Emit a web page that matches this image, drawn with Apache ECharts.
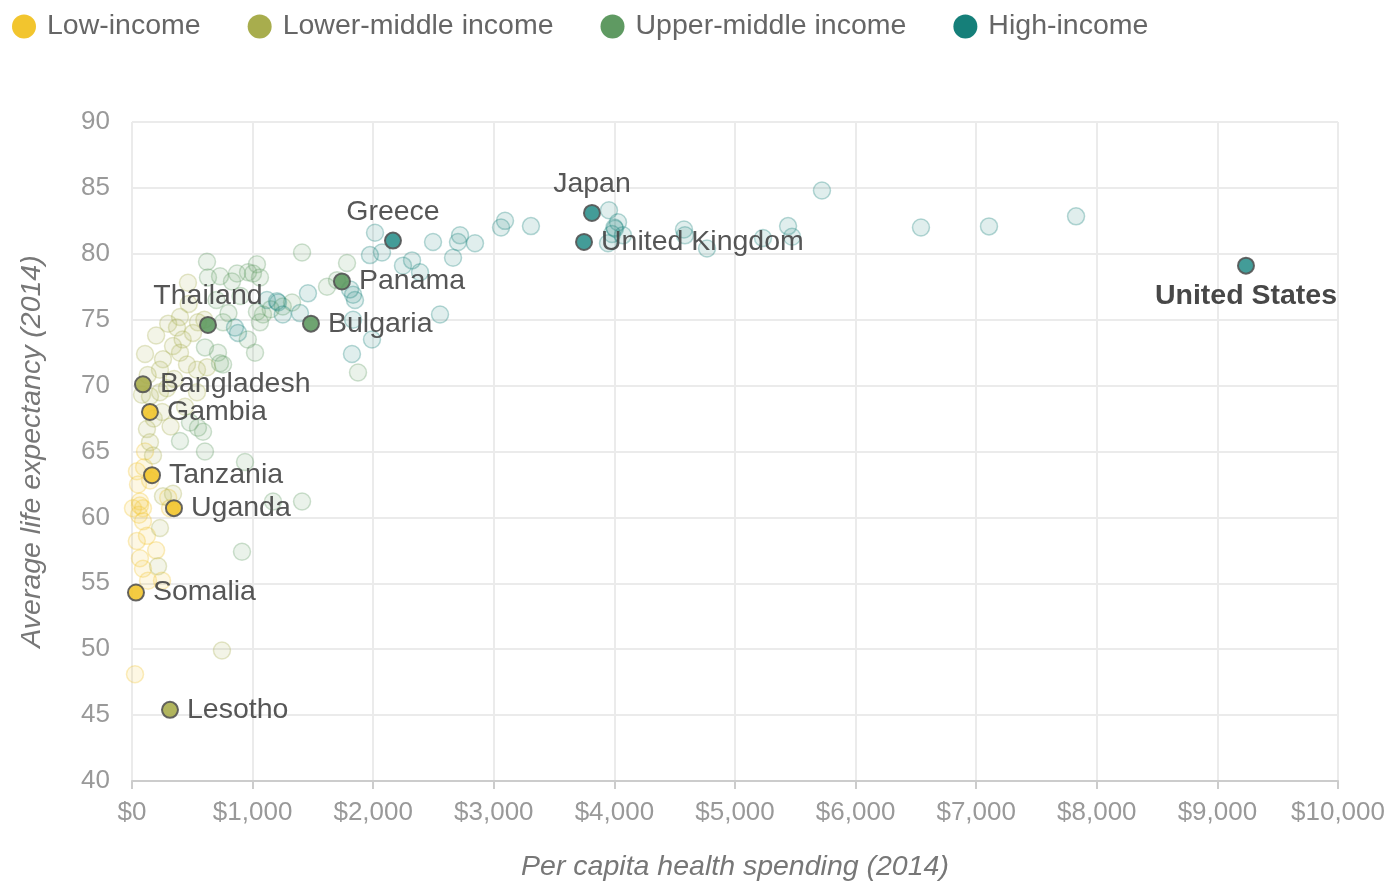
<!DOCTYPE html>
<html><head><meta charset="utf-8">
<script src="https://cdn.jsdelivr.net/npm/echarts@6/dist/echarts.min.js"></script>
<style>html,body{margin:0;padding:0;background:#fff}#c{width:1392px;height:887px}</style>
</head><body><div id="c"></div>
<script>
const groups = ['Low-income','Lower-middle income','Upper-middle income','High-income'];
const groupColors = ['#f2c52e','#a8ad4d','#5f9a62','#157f79'];
const xTicks = [0,1000,2000,3000,4000,5000,6000,7000,8000,9000,10000];
const yTicks = [40,45,50,55,60,65,70,75,80,85,90];

// faded points: [spending, life expectancy]
const lowIncome = [[41,63.5],[66,61.2],[91,60.7],[315,60.7],[124,58.6],[91,59.7],[66,56.9],[91,56.1],[249,55.2],[133,55.2],[8,60.7],[66,60.9],[108,65.0],[25,48.1],[50,62.5],[100,63.8],[58,60.2],[150,62.8],[300,61.5],[200,57.5],[40,58.2]];
const lowerMiddle = [[464,77.8],[547,74.8],[398,75.2],[373,74.4],[506,74.0],[108,72.4],[340,73.0],[398,72.5],[257,72.0],[539,71.2],[456,71.6],[622,71.4],[232,71.2],[83,69.3],[149,69.2],[232,69.5],[539,69.5],[440,68.4],[124,66.7],[149,65.7],[174,64.7],[257,61.6],[340,61.8],[232,59.2],[216,56.3],[746,49.9],[290,69.8],[180,67.5],[350,70.5],[420,73.5],[300,74.7],[470,76.2],[600,75.0],[200,73.8],[130,70.8],[250,68.0],[320,66.9]];
const upperMiddle = [[622,79.4],[1036,79.2],[1003,78.5],[962,78.6],[871,78.5],[630,78.2],[730,78.3],[829,77.9],[1061,78.2],[1036,75.6],[1086,75.4],[1061,74.8],[755,74.8],[605,72.9],[713,72.5],[730,71.7],[755,71.6],[1020,72.5],[481,67.2],[547,66.8],[589,66.5],[398,65.8],[605,65.0],[937,64.2],[1169,61.2],[1410,61.2],[912,57.4],[1410,80.1],[1327,76.3],[1874,71.0],[1783,79.3],[1617,77.5],[1700,78.0],[900,76.8],[800,75.5],[700,76.5],[1150,75.8],[1250,76.0],[960,73.5]];
const highIncome = [[5721,84.8],[7828,82.84],[7106,82.08],[6542,82.0],[3060,82.0],[3093,82.5],[3308,82.1],[3955,83.3],[4030,82.4],[4005,81.9],[3947,80.8],[4071,81.4],[4577,81.85],[4585,81.4],[4768,80.4],[5232,81.2],[5440,82.1],[5473,81.3],[2015,81.6],[2073,80.1],[1973,79.9],[2496,80.9],[2720,81.4],[2703,80.9],[2844,80.8],[2662,79.7],[2247,79.1],[2322,79.5],[2388,78.6],[1459,77.0],[1211,76.3],[1393,75.5],[1808,77.3],[1849,76.5],[1833,76.9],[2554,75.4],[1833,75.0],[1990,73.5],[1824,72.4],[1119,76.5],[1202,76.4],[854,74.4],[879,74.0],[1250,75.4],[3980,81.5],[4000,82.0]];
const fadedData = [lowIncome, lowerMiddle, upperMiddle, highIncome];

// highlighted countries
const hlNames = ['United States','Japan','United Kingdom','Greece','Panama','Bulgaria','Thailand','Bangladesh','Gambia','Tanzania','Uganda','Somalia','Lesotho'];
const hlSpend = [9237,3814,3748,2164,1741,1484,630,91,149,166,348,33,315];
const hlLife  = [79.1,83.1,80.9,81.0,77.9,74.7,74.6,70.1,68.0,63.2,60.7,54.3,45.4];
const hlGroup = [3,3,3,3,2,2,2,1,0,0,0,0,1];

const labelPos = {'United States':'bottom','Japan':'top','Greece':'top','Thailand':'top'};

function rgba(hex,a){const n=parseInt(hex.slice(1),16);return `rgba(${n>>16},${(n>>8)&255},${n&255},${a})`;}

const series = [];
groups.forEach((g,i)=>{
  series.push({
    name:g, type:'scatter', symbolSize:17, z:2,
    data: fadedData[i],
    itemStyle:{color:rgba(groupColors[i],0.17), borderColor:rgba(groupColors[i],0.38), borderWidth:1.5},
    emphasis:{disabled:true}
  });
});
groups.forEach((g,i)=>{
  const data = [];
  hlNames.forEach((n,k)=>{
    if(hlGroup[k]!==i) return;
    const pos = labelPos[n]||'right';
    const bold = n==='United States';
    data.push({name:n, value:[hlSpend[k],hlLife[k]],
      label:{show:true, formatter:'{b}', position:pos, distance: bold?7:(pos==='top'?5:8),
        fontSize:28.5, color: bold?'#333':'#444', fontWeight: bold?'bold':'normal',
        fontFamily:'Liberation Sans, Arial, sans-serif'}});
  });
  series.push({
    name:g, type:'scatter', symbolSize:16, z:5, data,
    itemStyle:{color: i===3 ? '#2f918d' : groupColors[i], borderColor:'#555', borderWidth:2, opacity:0.9},
    emphasis:{disabled:true}
  });
});

const chart = echarts.init(document.getElementById('c'));
chart.setOption({
  animation:false,
  textStyle:{fontFamily:'Liberation Sans, Arial, sans-serif'},
  color: groupColors,
  legend:{
    left:7, top:7, itemGap:47, icon:'circle', itemWidth:24, itemHeight:24,
    data: groups.map((g,i)=>({name:g, itemStyle:{color:groupColors[i], borderWidth:0, opacity:1}})),
    textStyle:{fontSize:28.5, color:'#666', padding:[0,0,0,6]}
  },
  grid:{left:132, right:54, top:122, bottom:101},
  xAxis:{
    type:'value', min:0, max:10000, interval:1000,
    name:'Per capita health spending (2014)', nameLocation:'middle', nameGap:72,
    nameTextStyle:{fontSize:28.5, color:'#777', fontStyle:'italic'},
    axisLine:{show:true, lineStyle:{color:'#ccc', width:2}},
    axisTick:{show:true, length:8, lineStyle:{color:'#ccc', width:2}},
    axisLabel:{fontSize:26, color:'#999', margin:19,
      formatter:v=>'$'+v.toLocaleString('en-US')},
    splitLine:{show:true, lineStyle:{color:'#ebebeb', width:2}}
  },
  yAxis:{
    type:'value', min:40, max:90, interval:5,
    name:'Average life expectancy (2014)', nameLocation:'middle', nameGap:85,
    nameTextStyle:{fontSize:28.5, color:'#777', fontStyle:'italic'},
    axisLine:{show:false}, axisTick:{show:false},
    axisLabel:{fontSize:26, color:'#999', margin:22},
    splitLine:{show:true, lineStyle:{color:'#ebebeb', width:2}}
  },
  series
});
</script></body></html>
